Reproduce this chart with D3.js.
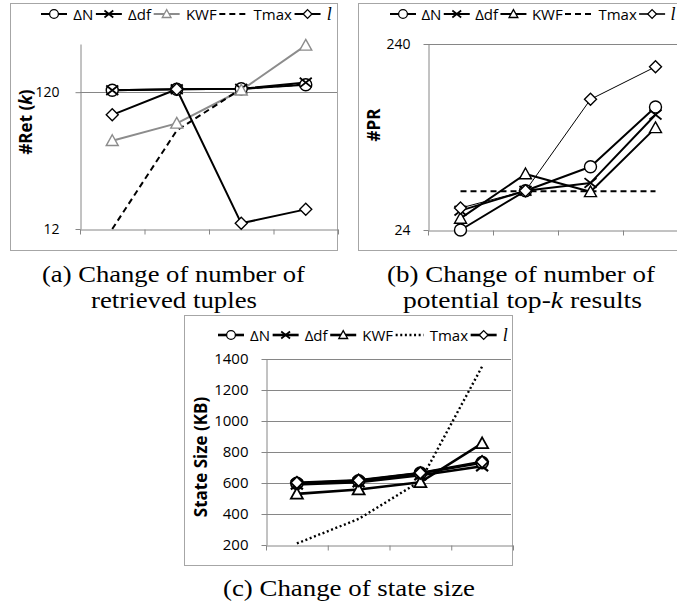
<!DOCTYPE html>
<html><head><meta charset="utf-8">
<script src="https://cdn.jsdelivr.net/npm/d3@7"></script>
<style>html,body{margin:0;padding:0;background:#fff;} svg{display:block;}</style>
</head><body>
<svg id="chart" width="677" height="606"></svg>
<script>
// ---------------- DATA ----------------
const categories = ["1", "2", "3", "4"];
const seriesNames = ["ΔN", "Δdf", "KWF", "Tmax", "l"];

// (a) number of retrieved tuples, #Ret(k)  (log axis)
const retDeltaN  = [124, 126, 127, 136];
const retDeltaDf = [124, 126, 127, 141];
const retKWF     = [53, 71, 124, 264];
const retTmax    = [12, 63, 127, 137];
const retL       = [82, 126, 13.2, 16.7];
const retTicks   = [12, 120];

// (b) number of potential top-k results, #PR  (log axis)
const prDeltaN  = [24, 39, 52.5, 110];
const prDeltaDf = [30.5, 39, 43, 100];
const prKWF     = [27.7, 48, 38.5, 85];
const prTmax    = [38.8, 38.8, 38.8, 38.8];
const prL       = [31.5, 39, 121, 181];
const prTicks   = [24, 240];

// (c) state size (KB)
const stateDeltaN  = [598, 614, 663, 731];
const stateDeltaDf = [590, 605, 650, 708];
const stateKWF     = [530, 558, 605, 856];
const stateTmax    = [210, 368, 612, 1352];
const stateL       = [602, 617, 665, 737];
const stateTicks   = [200, 400, 600, 800, 1000, 1200, 1400];

// ---------------- DRAWING ----------------
const svg = d3.select("#chart");
const SANS = "'Open Sans', 'Noto Sans', sans-serif";
const SERIF = "'Liberation Serif', serif";
const AXIS = "#868686";
const BOX = "#a6a6a6";

const panels = [
  {
    box: [10, 3, 337, 250], xr: [80, 338], yType: "log", yDomain: [12, 270], yRange: [229, 44],
    ticks: retTicks, grid: [120], gridEnd: 337, tickFont: 14, tickGap: 21, border: false,
    data: [retDeltaN, retDeltaDf, retKWF, retTmax, retL],
    styles: [
      {c: "#000", w: 2, m: "circle"}, {c: "#000", w: 2, m: "x"}, {c: "#8c8c8c", w: 2, m: "triangle"},
      {c: "#000", w: 2, m: null, dash: "6,4", seg: 28}, {c: "#000", w: 2, m: "diamond"}],
    mw: 1.4, ms: 6,
    legend: {x: 41, y: 14, w: 289},
    ylabel: {x: 25, y: 122, parts: [["#Ret (", false], ["k", true], [")", false]]},
    caption: [
      {x: 173.5, y: 282, w: 263, parts: [["(a) Change of number of", false]]},
      {x: 174, y: 308, w: 166, parts: [["retrieved tuples", false]]}]
  },
  {
    box: [358, 3, 700, 250], xr: [428, 688], yType: "log", yDomain: [24, 240], yRange: [230, 44],
    ticks: prTicks, grid: [], gridEnd: 688, tickFont: 14, tickGap: 18, border: true,
    data: [prDeltaN, prDeltaDf, prKWF, prTmax, prL],
    styles: [
      {c: "#000", w: 2, m: "circle"}, {c: "#000", w: 2, m: "x"}, {c: "#000", w: 2, m: "triangle"},
      {c: "#000", w: 2, m: null, dash: "6,4", seg: 28}, {c: "#000", w: 1, m: "diamond"}],
    mw: 1.4, ms: 6,
    legend: {x: 390, y: 14, w: 284},
    ylabel: {x: 373, y: 125, parts: [["#PR", false]]},
    caption: [
      {x: 521, y: 282, w: 268, parts: [["(b) Change of number of", false]]},
      {x: 522.5, y: 308, w: 239, parts: [["potential top-", false], ["k", true], [" results", false]]}]
  },
  {
    box: [184, 315, 512, 565], xr: [266, 513], yType: "linear", yDomain: [200, 1400], yRange: [545, 359],
    ticks: stateTicks, grid: stateTicks.slice(1), gridEnd: 511, tickFont: 15, tickGap: 18, border: false,
    data: [stateDeltaN, stateDeltaDf, stateKWF, stateTmax, stateL],
    styles: [
      {c: "#000", w: 2.6, m: "circle"}, {c: "#000", w: 2.6, m: "x"}, {c: "#000", w: 2.6, m: "triangle"},
      {c: "#000", w: 2.4, m: null, dash: "2,2.6", seg: 28}, {c: "#000", w: 2.6, m: "diamond"}],
    mw: 1.8, ms: 6,
    legend: {x: 218, y: 335, w: 288},
    ylabel: {x: 200, y: 457, parts: [["State Size (KB)", false]]},
    caption: [
      {x: 349, y: 596, w: 252, parts: [["(c) Change of state size", false]]}]
  }
];

function drawMarker(g, type, cx, cy, s, color, sw) {
  if (!type) return;
  if (type === "circle") {
    g.append("circle").attr("cx", cx).attr("cy", cy).attr("r", s)
      .attr("fill", "#fff").attr("stroke", color).attr("stroke-width", sw);
  } else if (type === "x") {
    g.append("path").attr("d", `M${cx - s},${cy - s * 0.8}L${cx + s},${cy + s * 0.8}M${cx - s},${cy + s * 0.8}L${cx + s},${cy - s * 0.8}`)
      .attr("fill", "none").attr("stroke", color).attr("stroke-width", sw + 0.4);
  } else if (type === "triangle") {
    g.append("path").attr("d", `M${cx},${cy - s}L${cx + s},${cy + s * 0.8}L${cx - s},${cy + s * 0.8}Z`)
      .attr("fill", "#fff").attr("stroke", color).attr("stroke-width", sw);
  } else if (type === "diamond") {
    g.append("path").attr("d", `M${cx},${cy - s}L${cx + s},${cy}L${cx},${cy + s}L${cx - s},${cy}Z`)
      .attr("fill", "#fff").attr("stroke", color).attr("stroke-width", sw);
  }
}

function addParts(t, parts) {
  parts.forEach(([txt, it]) => {
    const ts = t.append("tspan").text(txt);
    if (it) ts.attr("font-style", "italic");
  });
}

panels.forEach(p => {
  const g = svg.append("g");
  // panel frame
  g.append("rect").attr("x", p.box[0] + 0.5).attr("y", p.box[1] + 0.5)
    .attr("width", p.box[2] - p.box[0]).attr("height", p.box[3] - p.box[1])
    .attr("fill", "none").attr("stroke", BOX).attr("stroke-width", 1);

  const xb = d3.scaleBand().domain(categories).range(p.xr).paddingInner(0).paddingOuter(0);
  const xEdge = d3.scaleLinear().domain([0, categories.length]).range(p.xr);
  const y = (p.yType === "log" ? d3.scaleLog() : d3.scaleLinear()).domain(p.yDomain).range(p.yRange);
  const cx = c => xb(c) + xb.bandwidth() / 2;

  // gridlines
  g.selectAll(".grid").data(p.grid).join("line")
    .attr("x1", p.xr[0]).attr("x2", p.gridEnd)
    .attr("y1", d => Math.round(y(d)) + 0.5).attr("y2", d => Math.round(y(d)) + 0.5)
    .attr("stroke", AXIS).attr("stroke-width", 1);

  if (p.border) {
    g.append("line").attr("x1", p.xr[0]).attr("x2", p.xr[1])
      .attr("y1", Math.round(p.yRange[1]) + 0.5).attr("y2", Math.round(p.yRange[1]) + 0.5)
      .attr("stroke", AXIS).attr("stroke-width", 1);
  }

  // x axis (no labels, tick marks at category boundaries)
  const xa = g.append("g").attr("transform", `translate(0,${Math.round(p.yRange[0]) + 0.5})`)
    .call(d3.axisBottom(xEdge).tickValues(d3.range(categories.length + 1)).tickSize(5).tickSizeOuter(0).tickFormat(""));
  xa.select(".domain").attr("stroke", AXIS);
  xa.selectAll(".tick line").attr("stroke", AXIS);

  // y axis
  const ya = g.append("g").attr("transform", `translate(${p.xr[0] + 0.5},0)`)
    .call(d3.axisLeft(y).tickValues(p.ticks).tickSize(5).tickSizeOuter(0)
      .tickPadding(p.tickGap - 5).tickFormat(d3.format("d")));
  ya.select(".domain").attr("stroke", AXIS);
  ya.selectAll(".tick line").attr("stroke", AXIS);
  ya.selectAll(".tick text").attr("font-family", SANS).attr("font-size", p.tickFont).attr("fill", "#000");

  // series
  p.data.forEach((vals, i) => {
    const st = p.styles[i];
    const pts = categories.map((c, j) => [cx(c), y(vals[j])]);
    g.append("path").attr("d", d3.line()(pts)).attr("fill", "none")
      .attr("stroke", st.c).attr("stroke-width", st.w)
      .attr("stroke-dasharray", st.dash || null).attr("stroke-linejoin", "round");
  });
  p.data.forEach((vals, i) => {
    const st = p.styles[i];
    categories.forEach((c, j) => drawMarker(g, st.m, cx(c), y(vals[j]), p.ms, st.c, p.mw));
  });

  // legend
  const lg = g.append("g");
  const items = seriesNames.map((name, i) => {
    const st = p.styles[i];
    const it = lg.append("g");
    const t = it.append("text").attr("y", p.legend.y).attr("dominant-baseline", "central")
      .attr("font-size", name === "l" ? 18 : 15)
      .attr("font-family", name === "l" ? SERIF : SANS)
      .attr("font-style", name === "l" ? "italic" : null).text(name);
    return {it, t, st, seg: st.seg || 26, tw: t.node().getComputedTextLength()};
  });
  const used = d3.sum(items, d => d.seg + d.tw);
  const gap = Math.max(1, (p.legend.w - used) / (items.length * 2 - 1));
  let lx = p.legend.x;
  items.forEach(d => {
    d.it.append("line").attr("x1", lx).attr("x2", lx + d.seg)
      .attr("y1", p.legend.y).attr("y2", p.legend.y)
      .attr("stroke", d.st.c).attr("stroke-width", Math.max(d.st.w, 1.6))
      .attr("stroke-dasharray", d.st.dash || null);
    drawMarker(d.it, d.st.m, lx + d.seg / 2, p.legend.y, 4.4, d.st.c, 1.3);
    lx += d.seg + gap * 1.4;
    d.t.attr("x", lx);
    lx += d.tw + gap * 0.6;
  });

  // y label
  const yl = g.append("text")
    .attr("transform", `translate(${p.ylabel.x},${p.ylabel.y}) rotate(-90)`)
    .attr("text-anchor", "middle").attr("dominant-baseline", "central")
    .attr("font-family", SANS).attr("font-weight", "bold").attr("font-size", 17);
  addParts(yl, p.ylabel.parts);

  // caption
  p.caption.forEach(cp => {
    const t = svg.append("text").attr("x", cp.x).attr("y", cp.y)
      .attr("text-anchor", "middle").attr("font-family", SERIF).attr("font-size", 23)
      .attr("font-weight", "normal").attr("fill", "#000");
    addParts(t, cp.parts);
    t.attr("textLength", cp.w).attr("lengthAdjust", "spacingAndGlyphs");
  });
});
</script>
</body></html>
